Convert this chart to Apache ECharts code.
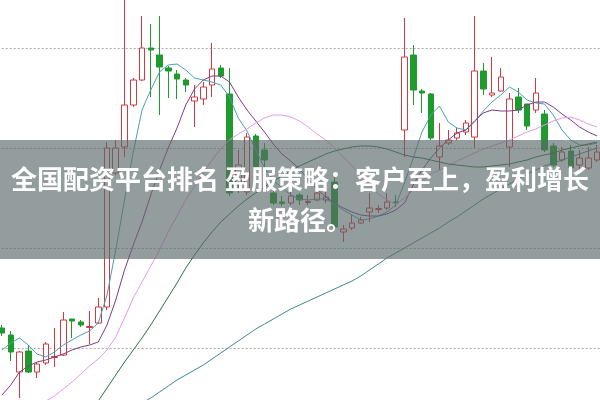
<!DOCTYPE html>
<html>
<head>
<meta charset="utf-8">
<script src="https://cdn.jsdelivr.net/npm/echarts@6/dist/echarts.min.js"></script>
<style>
html,body{margin:0;padding:0;background:#fff;}
#c{width:600px;height:400px;}
</style>
</head>
<body>
<div id="c"></div>
<script>
const categories = ['1','2','3','4','5','6','7','8','9','10','11','12','13','14','15','16','17','18','19','20','21','22','23','24','25','26','27','28','29','30','31','32','33','34','35','36','37','38','39','40','41','42','43','44','45','46','47','48','49','50','51','52','53','54','55','56','57','58','59','60','61','62','63','64','65','66','67','68','69'];

// [open, close, low, high]
const candles = [
[12.0,11.5,11.2,12.3],[11.3,9.6,8.7,11.7],[7.6,9.6,5.0,9.7],[9.7,7.6,7.5,10.3],[7.6,8.4,7.0,8.6],
[8.5,10.4,8.3,10.6],[9.05,9.15,8.1,12.0],[9.3,12.8,9.2,13.6],[12.9,12.7,11.0,12.9],[12.6,12.3,12.1,12.8],
[12.05,12.15,10.4,13.7],[12.5,14.1,12.4,15.0],[14.1,30.0,13.8,30.6],[27.5,30.0,27.3,30.8],[30.1,34.3,29.1,44.8],
[34.3,36.8,34.1,37.0],[36.8,40.0,36.7,43.2],[40.0,39.8,35.1,42.4],[39.3,38.1,33.3,43.2],[38.0,37.7,35.0,38.2],
[37.4,36.9,34.9,37.8],[36.8,36.3,35.6,37.0],[34.7,35.1,32.1,36.3],[34.9,36.1,34.3,36.6],[36.3,37.9,35.1,40.5],
[38.0,37.2,37.0,38.3],[35.4,25.5,25.2,38.0],[26.3,28.3,25.5,29.8],[25.6,31.1,25.3,31.5],[31.2,28.1,27.8,31.4],
[29.8,28.8,27.8,30.5],[25.5,24.5,24.3,25.8],[24.6,24.45,24.2,25.2],[24.5,25.2,24.3,25.6],[25.3,24.8,24.3,25.5],
[24.55,24.65,24.3,25.3],[24.8,25.5,24.7,26.5],[24.8,25.1,24.5,25.8],[26.6,22.1,21.8,27.1],[21.6,21.9,20.6,22.3],
[22.0,22.5,21.8,23.3],[22.5,22.8,22.4,23.1],[23.6,24.0,22.6,25.5],[23.85,23.95,23.5,24.3],[24.0,24.6,23.8,25.5],
[24.6,24.5,24.1,25.3],[31.8,39.1,29.1,43.0],[39.3,35.8,34.3,40.3],[35.7,35.5,33.5,35.9],[35.4,31.0,30.8,35.5],
[29.1,30.2,27.8,32.5],[30.5,30.8,30.3,31.8],[31.0,31.5,30.8,32.0],[31.6,32.5,31.3,32.8],[31.1,37.7,30.0,43.2],
[37.7,35.9,35.3,38.5],[35.3,35.5,35.1,39.1],[35.7,37.1,35.6,38.0],[30.1,34.9,28.1,35.5],[35.1,33.8,33.5,36.0],
[34.4,32.2,31.8,34.4],[33.8,35.5,33.5,37.0],[33.4,29.8,29.6,33.8],[30.2,28.3,28.1,30.5],[28.8,29.6,28.6,30.1],
[29.7,28.0,27.8,30.3],[28.3,29.0,27.8,29.8],[28.0,29.0,27.8,30.1],[28.8,29.6,28.6,30.3]
];

const ma5 = [9.8,10.5,11.0,10.3,9.4,9.1,9.6,10.3,10.8,11.3,11.7,12.5,15.3,19.8,24.8,29.6,33.8,35.8,37.6,38.3,
38.4,37.8,37.0,36.8,36.6,36.3,35.1,33.0,31.7,29.8,28.0,26.8,26.0,25.3,24.9,24.8,24.9,24.9,24.4,23.8,
23.3,22.8,22.9,23.2,23.6,24.3,26.5,29.0,31.6,33.3,34.2,32.6,32.0,31.8,32.6,33.7,34.6,35.3,36.1,35.6,
34.8,34.5,34.4,33.3,31.8,30.8,30.3,30.3,30.5];

const ma10 = [5.3,6.3,7.6,8.2,8.6,8.8,9.1,9.4,9.8,10.1,10.3,10.6,12.3,14.8,17.8,20.3,22.6,25.3,27.8,30.0,
32.0,34.3,35.9,36.8,37.2,37.2,36.6,35.1,33.8,32.7,31.6,30.4,29.4,28.7,27.9,26.9,25.9,25.1,24.5,24.0,
23.6,23.3,23.2,23.2,23.4,23.8,24.5,26.3,27.8,29.0,30.0,30.8,31.5,31.8,32.7,33.5,33.8,33.7,33.7,33.8,
34.3,34.6,34.6,34.1,33.4,32.8,32.1,31.6,31.2];

const ma20 = [1.2,1.9,2.6,3.3,4.0,4.7,5.2,5.9,6.6,7.4,8.2,8.9,9.8,11.1,13.0,15.0,16.6,18.2,19.8,21.6,
23.2,24.8,26.2,27.5,28.8,29.9,30.8,31.4,31.9,32.5,33.0,33.3,33.3,33.1,32.7,32.1,31.4,30.8,30.0,29.1,
28.2,27.3,26.3,25.4,24.8,24.4,25.0,25.8,26.7,27.4,27.8,28.2,28.7,29.1,29.5,29.9,30.2,30.5,30.8,31.2,
31.6,31.9,32.3,32.7,33.0,33.1,32.8,32.4,32.1];

const ma30 = [null,null,null,null,null,null,null,null,null,null,3.4,4.7,6.0,7.3,8.6,9.8,11.0,12.3,13.7,15.1,
16.5,18.0,19.3,20.5,21.6,22.6,23.4,24.2,24.9,25.5,26.1,26.7,27.2,27.7,28.2,28.6,29.0,29.4,29.7,29.9,
30.1,30.2,30.2,30.1,29.9,29.6,29.3,29.1,29.0,28.8,28.6,28.4,28.3,28.2,28.1,28.1,28.2,28.3,28.4,28.6,
28.8,29.1,29.3,29.5,29.8,30.0,30.2,30.4,30.6];

const ma60 = [null,null,null,null,null,null,null,null,null,null,null,null,null,null,null,null,4.5,5.0,5.6,6.2,
6.8,7.3,7.8,8.3,8.9,9.5,10.1,10.7,11.3,11.9,12.4,12.9,13.4,13.9,14.3,14.7,15.1,15.5,15.9,16.3,
16.7,17.2,17.8,18.4,19.0,19.5,20.0,20.5,21.0,21.5,22.0,22.6,23.1,23.7,24.3,24.9,25.4,25.9,26.4,26.9,
27.4,27.8,28.2,28.5,28.8,29.1,29.4,29.7,30.0];

const bannerText = '全国配资平台排名 盈服策略：客户至上，盈利增长\n新路径。';

const chart = echarts.init(document.getElementById('c'), null, {renderer: 'canvas'});

function maLine(name, data, color) {
  return {
    name: name, type: 'line', data: data, showSymbol: false, symbol: 'none',
    smooth: false, connectNulls: false, clip: false,
    lineStyle: {width: 1, color: color}, itemStyle: {color: color},
    emphasis: {disabled: true}, silent: true
  };
}

chart.setOption({
  animation: false,
  backgroundColor: '#ffffff',
  grid: {left: -2.375, right: -1.375, top: -52, bottom: -48, containLabel: false, outerBoundsMode: 'none'},
  xAxis: {
    type: 'category', data: categories, boundaryGap: true,
    axisLine: {show: false}, axisTick: {show: false}, axisLabel: {show: false}, splitLine: {show: false}
  },
  yAxis: {
    type: 'value', min: 0, max: 50, interval: 10, scale: false,
    axisLine: {show: false}, axisTick: {show: false}, axisLabel: {show: false},
    splitLine: {show: true, lineStyle: {color: '#a8a8a8', type: [2, 2], width: 1}}
  },
  series: [
    {
      type: 'candlestick', data: candles, barWidth: 6, clip: false, silent: true,
      itemStyle: {color: '#ffffff', color0: '#1f9a2c', borderColor: '#d03a40', borderColor0: '#1f9a2c', borderWidth: 1}
    },
    maLine('MA5', ma5, '#4aa3ad'),
    maLine('MA10', ma10, '#7e3c86'),
    maLine('MA20', ma20, '#e49ce6'),
    maLine('MA30', ma30, '#2f6e48'),
    maLine('MA60', ma60, '#3f8793')
  ],
  graphic: [
    {type: 'rect', left: 0, top: 140, z: 100, silent: true,
     shape: {width: 600, height: 119}, style: {fill: 'rgba(90,105,105,0.65)'}},
    {type: 'text', x: 300, y: 200, z: 101, silent: true,
     style: {text: bannerText, fill: '#ffffff', font: 'bold 26px "Noto Sans CJK SC"',
             textAlign: 'center', textVerticalAlign: 'middle', lineHeight: 41}}
  ]
});
</script>
</body>
</html>
